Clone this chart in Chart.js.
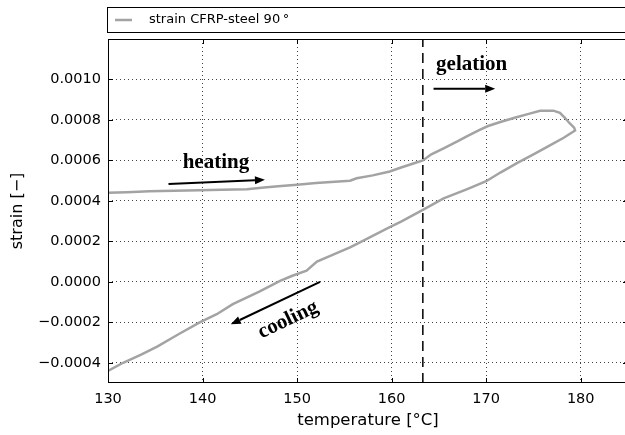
<!DOCTYPE html>
<html>
<head>
<meta charset="utf-8">
<script src="https://cdn.jsdelivr.net/npm/chart.js@4.4.0/dist/chart.umd.min.js"></script>
<style>
  html, body { margin: 0; padding: 0; overflow: hidden; background: #fff; }
</style>
</head>
<body>
<canvas id="strain" width="630" height="435"></canvas>
<script>
// heating branch first (130 -> 179), then the cooling branch back to 130
const temperature = [
  130.0, 132.0, 134.4, 137.0, 139.7, 142.0, 144.7, 146.5, 148.0, 150.0,
  152.0, 154.0, 155.6, 156.3, 158.0, 159.8, 161.0, 162.3, 163.3, 164.2,
  165.5, 167.0, 168.0, 169.2, 170.2, 171.5, 173.1, 174.5, 175.7, 177.1,
  177.8, 178.3, 178.8, 179.3, 179.4,
  178.2, 176.5, 175.0, 173.3, 171.5, 170.0, 168.0, 165.5, 163.3, 161.0,
  159.8, 158.2, 156.7, 155.6, 154.0, 152.1, 151.0, 149.5, 148.2, 146.0,
  143.2, 141.5, 139.7, 137.5, 135.2, 133.5, 131.6, 130.0
];
const strain = [
  0.000440, 0.000443, 0.000448, 0.000450, 0.000453, 0.000455, 0.000458, 0.000466, 0.000472, 0.000480,
  0.000488, 0.000494, 0.000500, 0.000512, 0.000526, 0.000545, 0.000565, 0.000585, 0.000600, 0.000630,
  0.000660, 0.000695, 0.000720, 0.000748, 0.000770, 0.000790, 0.000812, 0.000830, 0.000845, 0.000846,
  0.000835, 0.000812, 0.000785, 0.000762, 0.000748,
  0.000712, 0.000668, 0.000630, 0.000588, 0.000540, 0.000497, 0.000458, 0.000412, 0.000356, 0.000298,
  0.000270, 0.000232, 0.000196, 0.000170, 0.000138, 0.000100, 0.000055, 0.000030, 0.000005, -0.000048,
  -0.000110, -0.000160, -0.000200, -0.000258, -0.000320, -0.000360, -0.000400, -0.000440
];
const gelationTemp = 163.3;
const xRange = [130, 185];
const yRange = [-0.0005, 0.0012];
const seriesLabel = 'strain CFRP-steel 90\u2009°';

const points = temperature.map((t, i) => ({ x: t, y: strain[i] }));

// text labels and arrows, placed in data units
const notes = [
  { text: 'heating', at: [137.9, 0.000561], rot: 0, align: 'left', arrow: [136.4, 0.000484, 146.6, 0.000504] },
  { text: 'gelation', at: [164.7, 0.001049], rot: 0, align: 'left', arrow: [164.43, 0.000954, 170.95, 0.000954] },
  { text: 'cooling', at: [149.05, -0.000188], rot: -25.6, align: 'center', arrow: [152.43, 0.0, 142.98, -0.00021] }
];

function drawArrow(ctx, x0, y0, x1, y1) {
  const ang = Math.atan2(y1 - y0, x1 - x0);
  const head = 10, half = 4;
  ctx.beginPath();
  ctx.moveTo(x0, y0);
  ctx.lineTo(x1 - Math.cos(ang) * head, y1 - Math.sin(ang) * head);
  ctx.stroke();
  ctx.beginPath();
  ctx.moveTo(x1, y1);
  ctx.lineTo(x1 - Math.cos(ang) * head - Math.sin(ang) * half, y1 - Math.sin(ang) * head + Math.cos(ang) * half);
  ctx.lineTo(x1 - Math.cos(ang) * head + Math.sin(ang) * half, y1 - Math.sin(ang) * head - Math.cos(ang) * half);
  ctx.closePath();
  ctx.fill();
}

const decorations = {
  id: 'decorations',
  afterDatasetsDraw(chart) {
    const { ctx, chartArea: a, scales: { x, y } } = chart;
    ctx.save();
    ctx.strokeStyle = '#000';
    ctx.lineWidth = 1;
    ctx.strokeRect(a.left + 0.5, a.top + 0.5, a.right - a.left - 1, a.bottom - a.top - 1);
    // inward tick marks on all sides
    ctx.beginPath();
    x.ticks.forEach(t => {
      const px = Math.round(x.getPixelForValue(t.value)) + 0.5;
      ctx.moveTo(px, a.bottom); ctx.lineTo(px, a.bottom - 5);
      ctx.moveTo(px, a.top); ctx.lineTo(px, a.top + 5);
    });
    y.ticks.forEach(t => {
      const py = Math.round(y.getPixelForValue(t.value)) + 0.5;
      ctx.moveTo(a.left, py); ctx.lineTo(a.left + 5, py);
      ctx.moveTo(a.right, py); ctx.lineTo(a.right - 5, py);
    });
    ctx.stroke();

    // annotations
    ctx.fillStyle = '#000';
    ctx.lineWidth = 2;
    ctx.font = 'bold 21px "Liberation Serif", "Times New Roman", serif';
    notes.forEach(n => {
      const [ax0, ay0, ax1, ay1] = n.arrow;
      drawArrow(ctx, x.getPixelForValue(ax0), y.getPixelForValue(ay0),
                     x.getPixelForValue(ax1), y.getPixelForValue(ay1));
      ctx.save();
      ctx.translate(x.getPixelForValue(n.at[0]), y.getPixelForValue(n.at[1]));
      ctx.rotate(n.rot * Math.PI / 180);
      ctx.textAlign = n.align;
      ctx.textBaseline = n.rot ? 'middle' : 'alphabetic';
      ctx.fillText(n.text, 0, 0);
      ctx.restore();
    });
    ctx.restore();
  },
  afterDraw(chart) {
    const { ctx } = chart;
    const ds = chart.data.datasets[1];
    ctx.save();
    ctx.strokeStyle = '#000';
    ctx.lineWidth = 1;
    ctx.strokeRect(107.5, 7.5, 600, 25);
    ctx.strokeStyle = ds.borderColor;
    ctx.lineWidth = 2.5;
    ctx.beginPath();
    ctx.moveTo(115, 20); ctx.lineTo(132, 20);
    ctx.stroke();
    ctx.fillStyle = '#000';
    ctx.font = '13px "DejaVu Sans", sans-serif';
    ctx.textBaseline = 'middle';
    ctx.fillText(ds.label, 149, 20);
    ctx.restore();
  }
};

const gridStyle = { color: '#444', lineWidth: 1, drawTicks: false };
const borderStyle = { display: false, dash: [1, 3] };

new Chart(document.getElementById('strain'), {
  type: 'scatter',
  data: {
    datasets: [
      {
        label: 'gelation',
        data: [{ x: gelationTemp, y: yRange[0] }, { x: gelationTemp, y: yRange[1] }],
        showLine: true,
        borderColor: '#000',
        borderWidth: 1.5,
        borderDash: [10, 6],
        pointRadius: 0
      },
      {
        label: seriesLabel,
        data: points,
        showLine: true,
        borderColor: '#a3a3a3',
        borderWidth: 2.5,
        pointRadius: 0,
        tension: 0
      }
    ]
  },
  options: {
    responsive: false,
    animation: false,
    devicePixelRatio: 1,
    layout: { padding: { top: 39, left: 0, right: 2, bottom: 0 } },
    plugins: { legend: { display: false }, tooltip: { enabled: false } },
    scales: {
      x: {
        type: 'linear',
        min: xRange[0],
        max: xRange[1],
        border: borderStyle,
        grid: gridStyle,
        ticks: {
          stepSize: 10,
          includeBounds: false,
          padding: 8,
          color: '#000',
          font: { family: '"DejaVu Sans"', size: 14.5 },
          maxRotation: 0
        },
        title: {
          display: true,
          text: 'temperature [°C]',
          color: '#000',
          font: { family: '"DejaVu Sans"', size: 16.5 },
          padding: { top: 0, bottom: 4 }
        },
        afterFit: s => { s.height = 52; }
      },
      y: {
        type: 'linear',
        min: yRange[0],
        max: yRange[1],
        border: borderStyle,
        grid: gridStyle,
        afterBuildTicks: s => { s.ticks = s.ticks.filter(t => t.value < 0.00115); },
        ticks: {
          stepSize: 0.0002,
          includeBounds: false,
          padding: 7,
          color: '#000',
          font: { family: '"DejaVu Sans"', size: 14.5 },
          callback: v => Math.abs(v) < 1e-12 ? '0.0000' : (v < 0 ? '\u2212' : '') + Math.abs(v).toFixed(4)
        },
        title: {
          display: true,
          text: 'strain [\u2212]',
          color: '#000',
          font: { family: '"DejaVu Sans"', size: 16 },
          padding: { top: 8, bottom: 0 }
        },
        afterFit: s => { s.width = 108; }
      }
    }
  },
  plugins: [decorations]
});
</script>
</body>
</html>
